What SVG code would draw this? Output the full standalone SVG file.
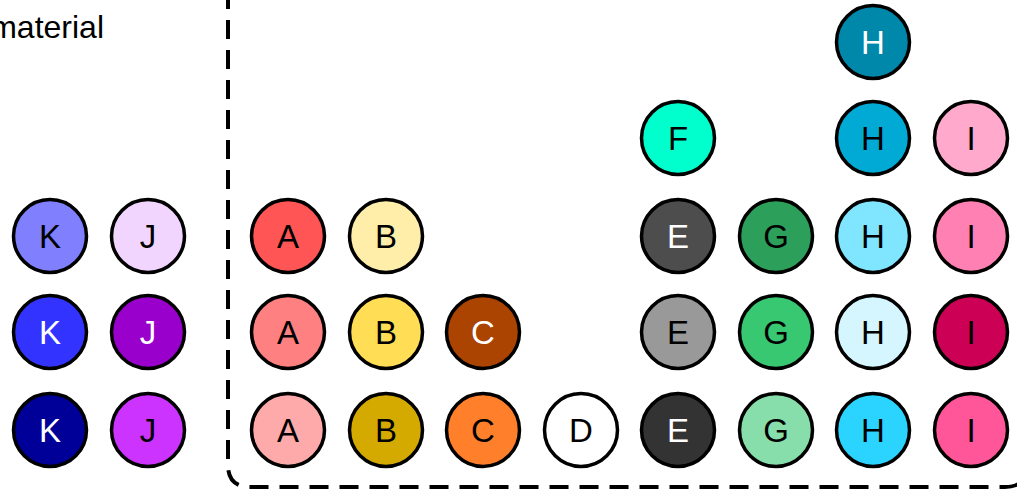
<svg xmlns="http://www.w3.org/2000/svg" width="1017" height="491" viewBox="0 0 1017 491">
<style>
.n circle{stroke:#000;stroke-width:3.5}
.n text{font-family:"Liberation Sans",Arial,sans-serif;font-size:33px;text-anchor:middle}
.w text{fill:#fff}
.b text{fill:#000}
.lbl{font-family:"Liberation Sans",Arial,sans-serif;font-size:32px;fill:#000}
.frame{fill:none;stroke:#000;stroke-width:4;stroke-dasharray:19 11}
</style>
<rect width="1017" height="491" fill="#fff"/>
<text class="lbl" x="104" y="38" text-anchor="end">material</text>
<g id="connectors">
<path class="frame" d="M228 -10 V465 Q228 487 250 487 H1005 Q1027 487 1027 465"/>
</g>
<g id="K1" class="n b"><circle cx="50" cy="236" r="36.5" fill="#8080ff"/><text x="50" y="248">K</text></g>
<g id="K2" class="n w"><circle cx="50" cy="332" r="36.5" fill="#3333ff"/><text x="50" y="344">K</text></g>
<g id="K3" class="n w"><circle cx="50" cy="430" r="36.5" fill="#000099"/><text x="50" y="442">K</text></g>
<g id="J1" class="n b"><circle cx="148" cy="236" r="36.5" fill="#f2d5ff"/><text x="148" y="248">J</text></g>
<g id="J2" class="n w"><circle cx="148" cy="332" r="36.5" fill="#9900cc"/><text x="148" y="344">J</text></g>
<g id="J3" class="n b"><circle cx="148" cy="430" r="36.5" fill="#cc33ff"/><text x="148" y="442">J</text></g>
<g id="A1" class="n b"><circle cx="288" cy="236" r="36.5" fill="#ff5555"/><text x="288" y="248">A</text></g>
<g id="A2" class="n b"><circle cx="288" cy="332" r="36.5" fill="#ff8080"/><text x="288" y="344">A</text></g>
<g id="A3" class="n b"><circle cx="288" cy="430" r="36.5" fill="#ffaaaa"/><text x="288" y="442">A</text></g>
<g id="B1" class="n b"><circle cx="386" cy="236" r="36.5" fill="#ffeeaa"/><text x="386" y="248">B</text></g>
<g id="B2" class="n b"><circle cx="386" cy="332" r="36.5" fill="#ffdd55"/><text x="386" y="344">B</text></g>
<g id="B3" class="n b"><circle cx="386" cy="430" r="36.5" fill="#d4aa00"/><text x="386" y="442">B</text></g>
<g id="C2" class="n w"><circle cx="483" cy="332" r="36.5" fill="#aa4400"/><text x="483" y="344">C</text></g>
<g id="C3" class="n b"><circle cx="483" cy="430" r="36.5" fill="#ff7f2a"/><text x="483" y="442">C</text></g>
<g id="D3" class="n b"><circle cx="581" cy="430" r="36.5" fill="#ffffff"/><text x="581" y="442">D</text></g>
<g id="F0" class="n b"><circle cx="678" cy="138" r="36.5" fill="#00ffcc"/><text x="678" y="150">F</text></g>
<g id="E1" class="n w"><circle cx="678" cy="236" r="36.5" fill="#4d4d4d"/><text x="678" y="248">E</text></g>
<g id="E2" class="n b"><circle cx="678" cy="332" r="36.5" fill="#999999"/><text x="678" y="344">E</text></g>
<g id="E3" class="n w"><circle cx="678" cy="430" r="36.5" fill="#333333"/><text x="678" y="442">E</text></g>
<g id="G1" class="n b"><circle cx="776" cy="236" r="36.5" fill="#2ca05a"/><text x="776" y="248">G</text></g>
<g id="G2" class="n b"><circle cx="776" cy="332" r="36.5" fill="#37c871"/><text x="776" y="344">G</text></g>
<g id="G3" class="n b"><circle cx="776" cy="430" r="36.5" fill="#87deaa"/><text x="776" y="442">G</text></g>
<g id="H_top" class="n w"><circle cx="873" cy="42" r="36.5" fill="#0088aa"/><text x="873" y="54">H</text></g>
<g id="H0" class="n b"><circle cx="873" cy="138" r="36.5" fill="#00aad4"/><text x="873" y="150">H</text></g>
<g id="H1" class="n b"><circle cx="873" cy="236" r="36.5" fill="#80e5ff"/><text x="873" y="248">H</text></g>
<g id="H2" class="n b"><circle cx="873" cy="332" r="36.5" fill="#d5f6ff"/><text x="873" y="344">H</text></g>
<g id="H3" class="n b"><circle cx="873" cy="430" r="36.5" fill="#2ad4ff"/><text x="873" y="442">H</text></g>
<g id="I0" class="n b"><circle cx="971" cy="138" r="36.5" fill="#ffaacc"/><text x="971" y="150">I</text></g>
<g id="I1" class="n b"><circle cx="971" cy="236" r="36.5" fill="#ff80b2"/><text x="971" y="248">I</text></g>
<g id="I2" class="n b"><circle cx="971" cy="332" r="36.5" fill="#cc0055"/><text x="971" y="344">I</text></g>
<g id="I3" class="n b"><circle cx="971" cy="430" r="36.5" fill="#ff5599"/><text x="971" y="442">I</text></g>
</svg>
